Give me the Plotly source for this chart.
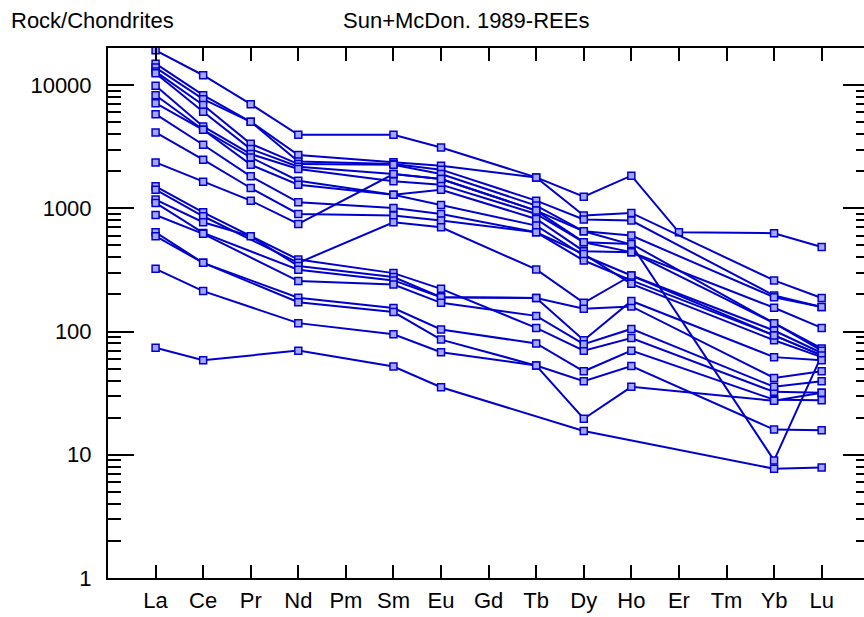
import plotly.graph_objects as go

elements = ["La", "Ce", "Pr", "Nd", "Pm", "Sm", "Eu", "Gd", "Tb", "Dy", "Ho", "Er", "Tm", "Yb", "Lu"]
ytick_vals = [1, 10, 100, 1000, 10000]
ytick_text = ["1", "10", "100", "1000", "10000"]
N = None

# Chondrite-normalized REE values per sample (None = not analysed)
s01 = [19150, 12020, 7000, 3955, N, 3955, 3120, N, 1782, 1244, 1840, 639, N, 628, 486]
s02 = [14930, 8280, 5040, 2705, N, 2360, 2218, N, 1782, 873, 917, N, N, 260, 187]
s03 = [13860, 7690, 5040, 2400, N, 2287, 2060, N, 1154, 811, 795, N, N, 196, 158]
s04 = [12870, 6900, 3340, 2287, N, 2260, 1898, N, 1052, 651, 508, N, N, 9.0, 64]
s05 = [12480, 6070, 3025, 2178, N, 1898, 1729, N, 958, 651, 601, N, N, 190, 158]
s06 = [9860, 4620, 2755, 2084, N, 1655, 1556, N, 900, 531, 441, N, N, 156, 107]
s07 = [8280, 4340, 2590, 1676, N, 1291, 1417, N, 820, 449, 441, N, N, 117, 73]
s08 = [7130, 4340, 2260, 1556, N, 1291, 1065, N, 724, 414, 285, N, N, 102, 67]
s09 = [5810, 3280, 1817, 1119, N, 1007, 900, N, 639, 377, 260, N, N, 93, 64]
s10 = [4130, 2480, 1462, 900, N, 873, 795, N, 639, 425, 244, N, N, 85, 62]
s11 = [2358, 1645, 1154, 747, N, 1898, 1729, N, 958, 531, 514, N, N, 117, 70]
s12 = [1508, 928, N, 384, N, 298, 222, N, 107, 70, 88.5, N, N, 32.4, 31.8]
s13 = [1417, 862, N, 361, N, 771, 702, N, 319, 171, 285, N, N, 93, 64]
s14 = [1177, 771, 594, 340, N, 277, 190, N, 187, 153, 160, N, N, 42, 47.6]
s15 = [1106, 632, N, 317, N, 260, 190, N, 187, 85, 177, N, N, 62, 58.5]
s16 = [883, 621, N, 257, N, 241, 171, N, 134, 79, 105, N, N, 35.6, 39.5]
s17 = [639, 361, N, 188, N, 155, 104, N, 80, 47.6, 70, N, N, 28, 27.7]
s18 = [594, 361, N, 173, N, 144, 86, N, 53, 19.6, 35.6, N, N, 27.4, 31.8]
s19 = [323, 213, N, 117, N, 95, 68, N, 53, 39.5, 52.5, N, N, 16, 15.8]
s20 = [74, 58.5, N, 70, N, 52, 35.3, N, N, 15.6, N, N, N, 7.7, 7.9]

samples = [s01, s02, s03, s04, s05, s06, s07, s08, s09, s10,
           s11, s12, s13, s14, s15, s16, s17, s18, s19, s20]

LINE = "rgb(0,0,204)"
FILL = "rgb(165,165,255)"

fig = go.Figure()
for vals in samples:
    fig.add_trace(go.Scatter(
        x=list(range(len(elements))), y=vals, mode="lines+markers",
        connectgaps=True, showlegend=False, cliponaxis=False,
        line=dict(color=LINE, width=2),
        marker=dict(symbol="square", size=7, color=FILL,
                    line=dict(color=LINE, width=1.5)),
    ))

YMAX = 4.301
XR = [-1, 14.89]
FONT = "Liberation Sans, Arial, sans-serif"

W, H = 864, 617
ML, MR, MT, MB = 108, 0, 48, 39
pw, ph = W - ML - MR, H - MT - MB

def px2paper(px, py):
    return (px - ML) / pw, (H - MB - py) / ph

tx1, ty1 = px2paper(9, 21)
tx2, ty2 = px2paper(341, 21)

fig.update_layout(
    width=W, height=H,
    margin=dict(l=ML, r=MR, t=MT, b=MB),
    paper_bgcolor="white", plot_bgcolor="white",
    xaxis=dict(range=XR, tickmode="array", tickvals=list(range(len(elements))),
               ticktext=elements, ticks="inside", ticklen=13, tickwidth=2,
               tickcolor="black", showline=True, linecolor="black", linewidth=2,
               showgrid=False, zeroline=False, ticklabelstandoff=2,
               tickfont=dict(family=FONT, size=22, color="black")),
    xaxis2=dict(range=XR, overlaying="x", side="top", anchor="y",
                tickmode="array", tickvals=list(range(len(elements))),
                ticks="inside", ticklen=13, tickwidth=2, tickcolor="black",
                showline=True, linecolor="black", linewidth=2,
                showticklabels=False, showgrid=False, zeroline=False),
    yaxis=dict(type="log", range=[0, YMAX], tickmode="array",
               tickvals=ytick_vals, ticktext=ytick_text,
               ticks="inside", ticklen=26,
               tickwidth=2, tickcolor="black", showline=True, linecolor="black",
               linewidth=2, showgrid=False, zeroline=False,
               ticklabelstandoff=10,
               tickfont=dict(family=FONT, size=22, color="black"),
               minor=dict(ticks="inside", ticklen=13, tickwidth=2,
                          tickcolor="black", dtick="D1", showgrid=False)),
    yaxis2=dict(type="log", range=[0, YMAX], dtick=1, overlaying="y", side="right",
                anchor="x", ticks="inside", ticklen=21, tickwidth=2,
                tickcolor="black", showline=False, showgrid=False,
                zeroline=False, showticklabels=False,
                minor=dict(ticks="inside", ticklen=8, tickwidth=2,
                           tickcolor="black", dtick="D1", showgrid=False)),
    annotations=[
        dict(text="Rock/Chondrites", x=tx1, y=ty1, xref="paper", yref="paper",
             showarrow=False, xanchor="left", yanchor="middle",
             font=dict(family=FONT, size=22, color="black")),
        dict(text="Sun+McDon. 1989-REEs", x=tx2, y=ty2, xref="paper", yref="paper",
             showarrow=False, xanchor="left", yanchor="middle",
             font=dict(family=FONT, size=22, color="black")),
    ],
)

fig.add_trace(go.Scatter(x=[0], y=[1], xaxis="x2", yaxis="y2", mode="markers",
                         marker=dict(opacity=0), showlegend=False, hoverinfo="skip"))

fig.write_html("out.html")
